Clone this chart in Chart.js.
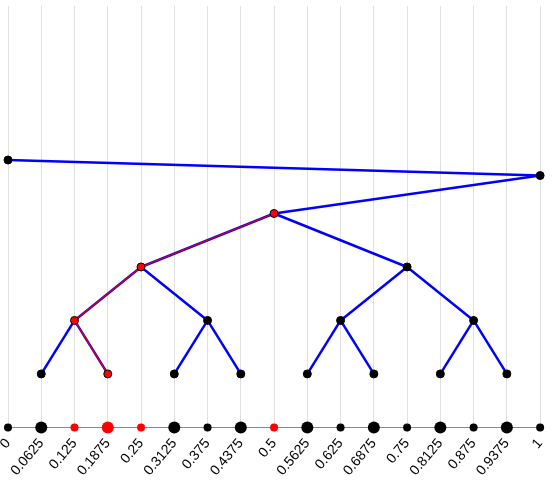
<!DOCTYPE html>
<html><head><script src="https://cdn.jsdelivr.net/npm/chart.js@4"></script>
<style>html,body{margin:0;padding:0;background:#fff}#w{width:556px;height:482px}</style></head>
<body><div id="w"><canvas id="c"></canvas></div>
<script>
const tickLabels=["0","0.0625","0.125","0.1875","0.25","0.3125","0.375","0.4375","0.5","0.5625","0.625","0.6875","0.75","0.8125","0.875","0.9375","1"];
const baseX=[0,0.0625,0.125,0.1875,0.25,0.3125,0.375,0.4375,0.5,0.5625,0.625,0.6875,0.75,0.8125,0.875,0.9375,1];
const baseSize=[4,6,4,6,4,6,4,6,4,6,4,6,4,6,4,6,4];
const baseRed=[0,0,1,1,1,0,0,0,1,0,0,0,0,0,0,0,0];
const nodeX=[0.0625,0.1875,0.3125,0.4375,0.5625,0.6875,0.8125,0.9375,0.125,0.375,0.625,0.875,0.25,0.75,0.5,1,0];
const nodeY=[1,1,1,1,1,1,1,1,2,2,2,2,3,3,4,4.71,5.0];
const nodeRed=[0,1,0,0,0,0,0,0,1,0,0,0,1,0,1,0,0];
const edges=[[0,8],[1,8],[2,9],[3,9],[4,10],[5,10],[6,11],[7,11],[8,12],[9,12],[10,13],[11,13],[12,14],[13,14],[14,15],[15,16]];
const redPath=[1,8,12,14];
const ds=[];
ds.push({data:baseX.map(x=>({x,y:0})),showLine:false,pointRadius:baseSize,pointBackgroundColor:baseRed.map(r=>r?'#ff0000':'#000'),pointBorderColor:baseRed.map(r=>r?'#ff0000':'#000'),pointBorderWidth:0,clip:false});
ds.push({data:nodeX.map((x,i)=>({x,y:nodeY[i]})),showLine:false,pointRadius:4,pointBackgroundColor:nodeRed.map(r=>r?'#ff0000':'#000'),pointBorderColor:'#000',pointBorderWidth:1,clip:false});
ds.push({data:redPath.map(i=>({x:nodeX[i],y:nodeY[i]})),showLine:true,borderColor:'#e00000',borderWidth:1.3,pointRadius:0,clip:false});
edges.forEach(e=>ds.push({data:e.map(i=>({x:nodeX[i],y:nodeY[i]})),showLine:true,borderColor:'#0000ff',borderWidth:2.5,pointRadius:0,clip:false}));
new Chart(document.getElementById('c'),{type:'scatter',data:{datasets:ds},
options:{responsive:true,maintainAspectRatio:false,animation:false,
layout:{padding:{left:2,right:2,top:0,bottom:0}},
plugins:{legend:{display:false},tooltip:{enabled:false}},
scales:{
x:{type:'linear',min:0,max:1,afterBuildTicks:a=>{a.ticks=baseX.map(v=>({value:v}));},
 ticks:{autoSkip:false,maxRotation:50,minRotation:50,color:'#000',font:{family:'Liberation Sans',size:14},callback:(v,i)=>tickLabels[i]},
 grid:{color:'#e0e0e0',tickLength:5},border:{color:'#888'}},
y:{display:false,min:0,max:7.88}
}}});
</script></body></html>
